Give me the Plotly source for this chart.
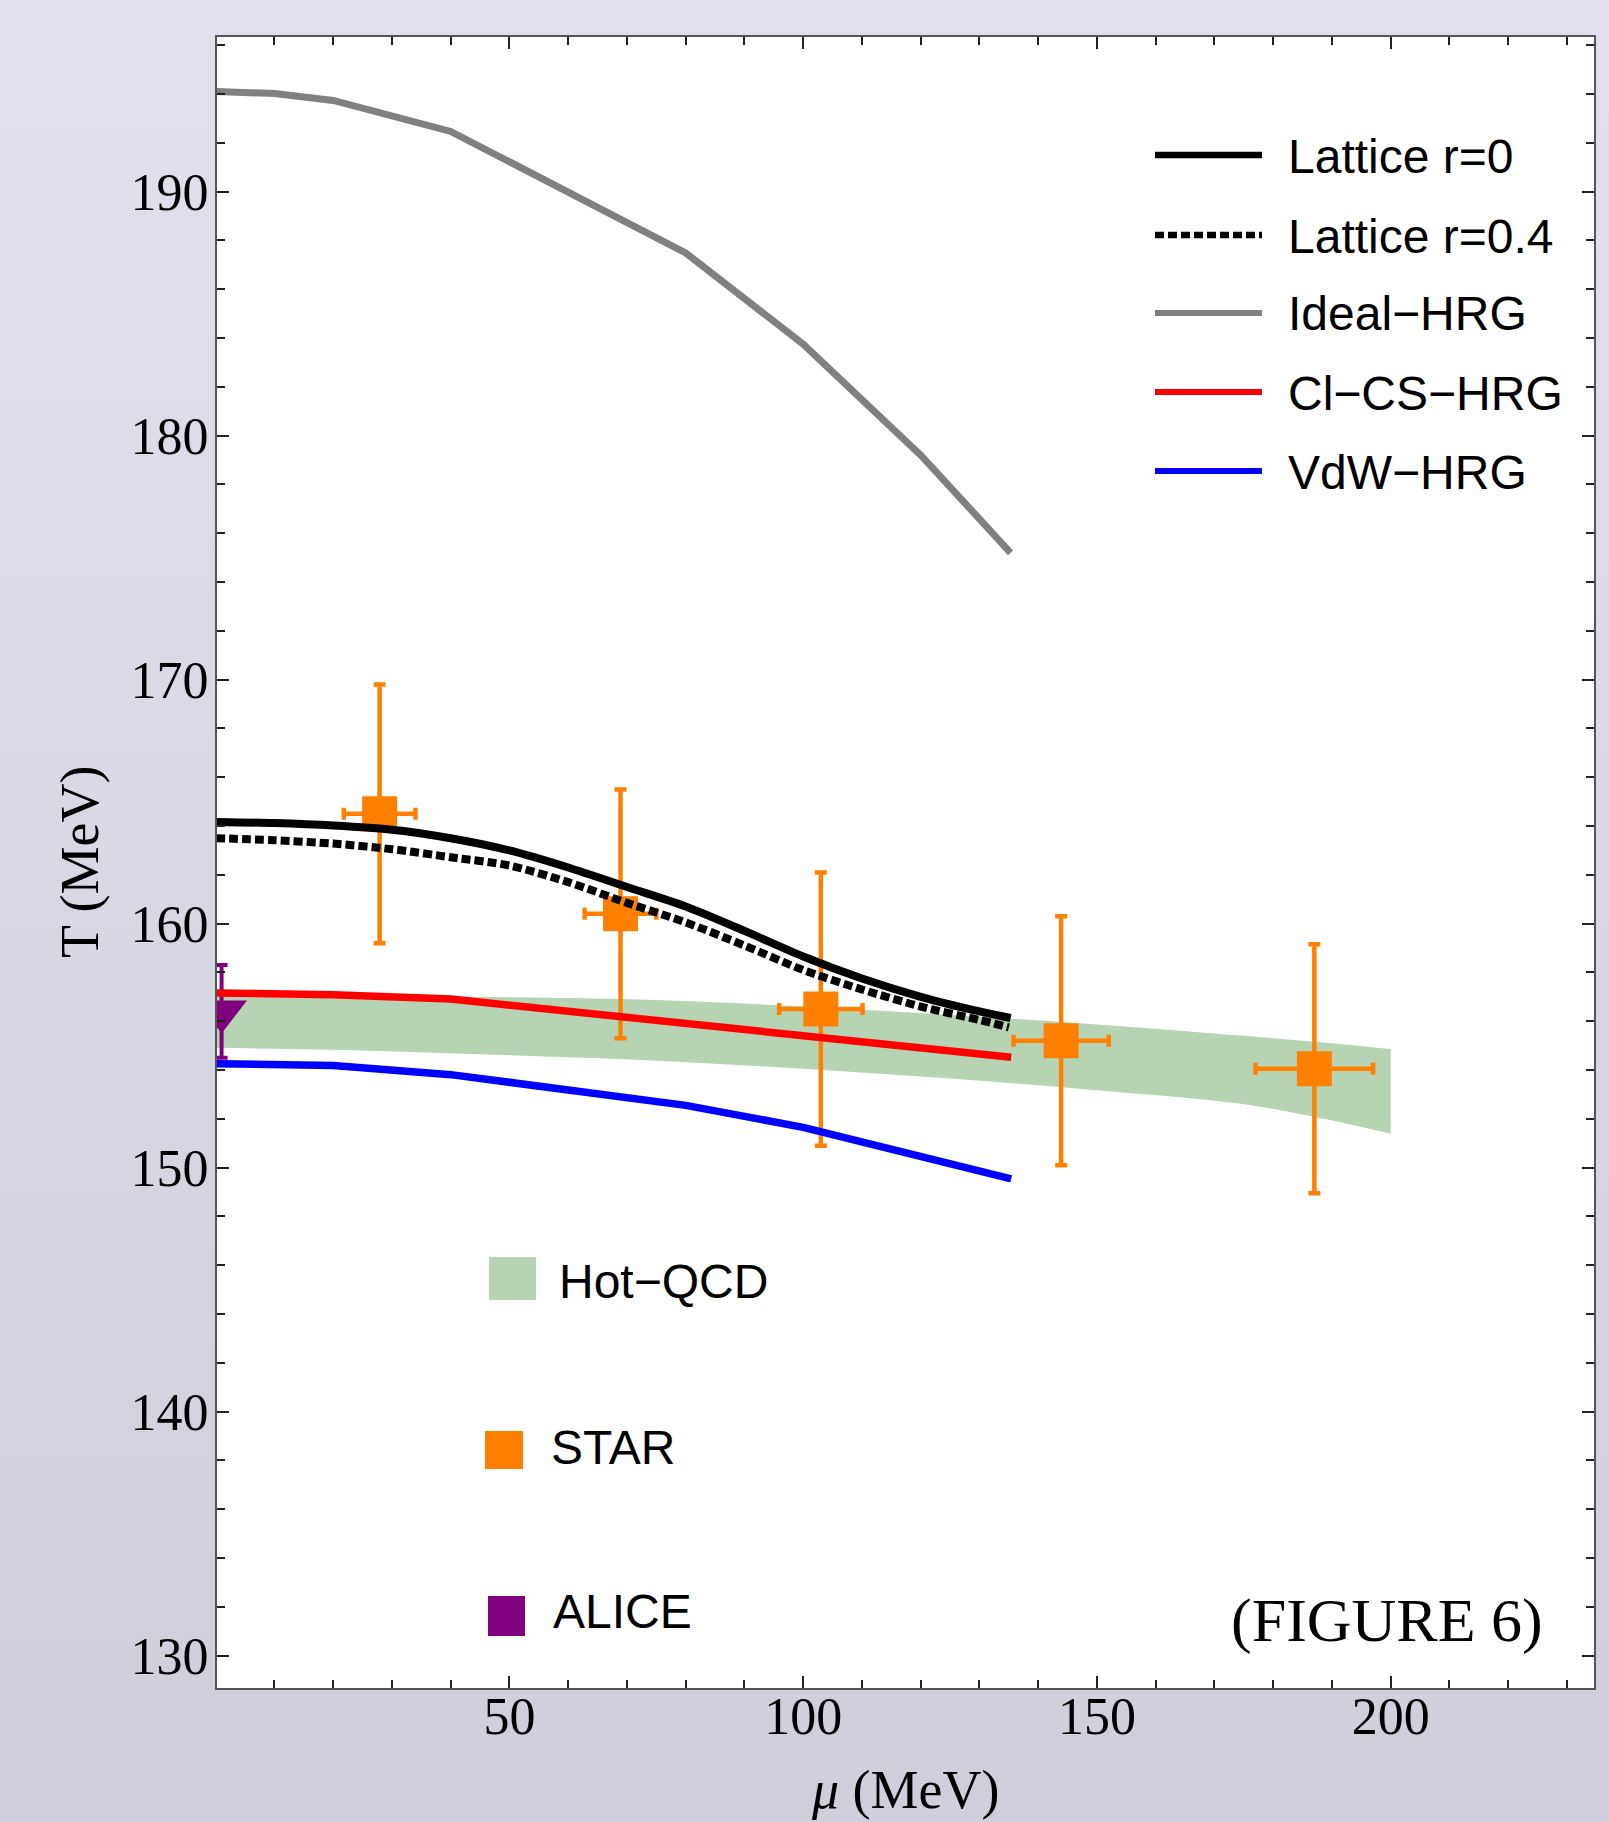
import base64
import plotly.graph_objects as go

# ---------------- data ----------------
ideal_mu = [0, 10, 20, 40, 80, 100, 120, 135.3]
ideal_T = [194.11, 194.02, 193.74, 192.47, 187.49, 183.75, 179.2, 175.2]

lat0_mu = [0, 10, 20, 30, 40, 50, 60, 70, 80, 90, 100, 110, 120, 130, 135.3]
lat0_T = [164.17, 164.12, 164.02, 163.85, 163.5, 163.0, 162.3, 161.5, 160.7, 159.7,
          158.65, 157.75, 157.0, 156.4, 156.13]

lat04_mu = [0, 10, 20, 30, 40, 50, 60, 70, 80, 90, 100, 110, 120, 130, 135.0]
lat04_T = [163.5, 163.42, 163.28, 163.05, 162.72, 162.38, 161.7, 160.85, 160.05, 159.1,
           158.1, 157.3, 156.6, 156.05, 155.75]

clcs_mu = [0, 20, 40, 60, 80, 100, 120, 135.4]
clcs_T = [157.16, 157.08, 156.91, 156.42, 155.9, 155.38, 154.92, 154.52]

vdw_mu = [0, 20, 40, 80, 100, 120, 135.4]
vdw_T = [154.26, 154.18, 153.81, 152.55, 151.65, 150.45, 149.54]

hotqcd_mu = [0, 25, 50, 75, 100, 125, 150, 175, 187.5, 200]
hotqcd_upper = [157.1, 157.05, 156.98, 156.87, 156.6, 156.25, 155.87, 155.4, 155.15, 154.86]
hotqcd_lower = [154.91, 154.8, 154.6, 154.38, 154.05, 153.65, 153.17, 152.6, 152.05, 151.39]

star_mu = [27.9, 68.9, 103.0, 143.9, 187.0]
star_T = [164.5, 160.4, 156.5, 155.2, 154.05]
star_Terr = [5.3, 5.1, 5.6, 5.1, 5.1]
star_muerr = [6.1, 6.1, 7.1, 8.1, 10.0]

alice_mu = [1.0]
alice_T = [156.4]
alice_Terr = [1.9]

x_ticks = [50, 100, 150, 200]
y_ticks = [130, 140, 150, 160, 170, 180, 190]

line_legend = ["Lattice r=0", "Lattice r=0.4", "Ideal\u2212HRG", "Cl\u2212CS\u2212HRG", "VdW\u2212HRG"]
box_legend = ["Hot\u2212QCD", "STAR", "ALICE"]

# ---------------- styling ----------------
W, H = 1609, 1822
L, R, T, B = 217, 15, 37, 134
PW, PH = W - L - R, H - T - B

def px(X):
    return (X - L) / PW

def py(Y):
    return (H - B - Y) / PH

BLACK = "#000000"
GRAY = "#808080"
RED = "#ff0000"
BLUE = "#0000ff"
GREEN = "rgb(182,211,179)"
ORANGE = "rgb(255,128,0)"
PURPLE = "rgb(128,0,128)"
SERIF = "Liberation Serif"
SANS = "Liberation Sans"

fig = go.Figure()

# Hot-QCD band
fig.add_trace(go.Scatter(x=hotqcd_mu, y=hotqcd_lower, mode="lines",
                         line=dict(width=0, color=GREEN, shape="spline", smoothing=1.0),
                         showlegend=False, hoverinfo="skip"))
fig.add_trace(go.Scatter(x=hotqcd_mu, y=hotqcd_upper, mode="lines", fill="tonexty",
                         fillcolor=GREEN, line=dict(width=0, color=GREEN, shape="spline", smoothing=1.0),
                         showlegend=False))

# STAR points
fig.add_trace(go.Scatter(
    x=star_mu, y=star_T, mode="markers",
    marker=dict(symbol="square", size=35, color=ORANGE, line=dict(width=0)),
    error_y=dict(type="data", array=star_Terr, color=ORANGE, thickness=4.5, width=6),
    error_x=dict(type="data", array=star_muerr, color=ORANGE, thickness=4.5, width=6),
    showlegend=False))

# ALICE point
fig.add_trace(go.Scatter(
    x=alice_mu, y=alice_T, mode="markers",
    marker=dict(symbol="triangle-down", size=44, color=PURPLE, line=dict(width=0)),
    error_y=dict(type="data", array=alice_Terr, color=PURPLE, thickness=4, width=6),
    showlegend=False))

# model curves
fig.add_trace(go.Scatter(x=ideal_mu, y=ideal_T, mode="lines",
                         line=dict(color=GRAY, width=7), showlegend=False))
fig.add_trace(go.Scatter(x=clcs_mu, y=clcs_T, mode="lines",
                         line=dict(color=RED, width=7.5), showlegend=False))
fig.add_trace(go.Scatter(x=vdw_mu, y=vdw_T, mode="lines",
                         line=dict(color=BLUE, width=7.5), showlegend=False))
fig.add_trace(go.Scatter(x=lat0_mu, y=lat0_T, mode="lines",
                         line=dict(color=BLACK, width=8, shape="spline", smoothing=0.8),
                         showlegend=False))
fig.add_trace(go.Scatter(x=lat04_mu, y=lat04_T, mode="lines",
                         line=dict(color=BLACK, width=8, dash="9px,4px", shape="spline", smoothing=0.8),
                         showlegend=False))

# background gradient
svg = ('<svg xmlns="http://www.w3.org/2000/svg" width="100" height="100" viewBox="0 0 100 100" '
       'preserveAspectRatio="none"><defs><linearGradient id="g" x1="0" y1="0" x2="0" y2="1">'
       '<stop offset="0" stop-color="#e1e1ed"/><stop offset="1" stop-color="#cfcfdb"/>'
       '</linearGradient></defs><rect width="100" height="100" fill="url(#g)"/></svg>')
src = "data:image/svg+xml;base64," + base64.b64encode(svg.encode()).decode()

shapes = [dict(type="rect", xref="paper", yref="paper", x0=0, x1=1, y0=0, y1=1,
               fillcolor="white", line=dict(width=0), layer="below")]
annotations = []

# line legend (top right)
leg_colors = [BLACK, BLACK, GRAY, RED, BLUE]
leg_dash = ["solid", "9px,4px", "solid", "solid", "solid"]
leg_widths = [6.5, 6.5, 6, 6, 6]
leg_rows = [155, 235, 313, 392, 471]
for name, c, d, w, Y in zip(line_legend, leg_colors, leg_dash, leg_widths, leg_rows):
    shapes.append(dict(type="line", xref="paper", yref="paper",
                       x0=px(1155), x1=px(1262), y0=py(Y), y1=py(Y),
                       line=dict(color=c, width=w, dash=d)))
    annotations.append(dict(xref="paper", yref="paper", x=px(1286), y=py(Y + 1),
                            xanchor="left", yanchor="middle", showarrow=False, text=name,
                            font=dict(family=SANS, size=48, color="black")))

# box legend (bottom left)
box_rects = [(489, 536, 1257, 1300), (485, 523, 1431, 1469), (488, 525, 1596, 1636)]
box_colors = [GREEN, ORANGE, PURPLE]
box_text = [(557, 1281), (549, 1447), (551, 1611)]
for name, (x0, x1, y0, y1), c, (tx, ty) in zip(box_legend, box_rects, box_colors, box_text):
    shapes.append(dict(type="rect", xref="paper", yref="paper",
                       x0=px(x0), x1=px(x1), y0=py(y1), y1=py(y0),
                       fillcolor=c, line=dict(width=0)))
    annotations.append(dict(xref="paper", yref="paper", x=px(tx), y=py(ty),
                            xanchor="left", yanchor="middle", showarrow=False, text=name,
                            font=dict(family=SANS, size=48, color="black")))

# figure label
annotations.append(dict(xref="paper", yref="paper", x=px(1387), y=py(1620),
                        xanchor="center", yanchor="middle", showarrow=False, text="(FIGURE 6)",
                        font=dict(family=SERIF, size=62, color="black")))

# axis titles
annotations.append(dict(xref="paper", yref="paper", x=px(906), y=py(1790),
                        xanchor="center", yanchor="middle", showarrow=False,
                        text="<i>\u03bc</i> (MeV)",
                        font=dict(family=SERIF, size=54, color="black")))
annotations.append(dict(xref="paper", yref="paper", x=px(80), y=py(862),
                        xanchor="center", yanchor="middle", showarrow=False, textangle=-90,
                        text="T (MeV)",
                        font=dict(family=SERIF, size=54, color="black")))

axis_common = dict(
    showgrid=False, zeroline=False, showline=True, linecolor="#555555", linewidth=2,
    mirror="ticks", ticks="inside", ticklen=12, tickwidth=1.5, tickcolor="#222222",
    tickfont=dict(family=SERIF, size=52, color="black"),
)

fig.update_layout(
    width=W, height=H, autosize=False,
    margin=dict(l=L, r=R, t=T, b=B, pad=0),
    paper_bgcolor="#d8d8e4", plot_bgcolor="white",
    showlegend=False,
    images=[dict(source=src, xref="paper", yref="paper", x=px(0), y=1 + T / PH,
                 sizex=W / PW, sizey=H / PH, xanchor="left", yanchor="top",
                 sizing="stretch", layer="below")],
    shapes=shapes, annotations=annotations,
    xaxis=dict(range=[0.22, 234.6], tickmode="array", tickvals=x_ticks,
               ticktext=[str(v) for v in x_ticks], ticklabelstandoff=-18,
               minor=dict(tickmode="linear", tick0=0, dtick=10, ticks="inside", ticklen=8,
                          tickwidth=1.5, tickcolor="#222222"),
               **axis_common),
    yaxis=dict(range=[128.67, 196.34], tickmode="array", tickvals=y_ticks,
               ticktext=[str(v) for v in y_ticks], ticklabelstandoff=-4,
               minor=dict(tickmode="linear", tick0=130, dtick=2, ticks="inside", ticklen=8,
                          tickwidth=1.5, tickcolor="#222222"),
               **axis_common),
)

fig.write_html("out.html", config={"displayModeBar": False},
               post_script="document.body.style.margin='0';document.body.style.padding='0';")
